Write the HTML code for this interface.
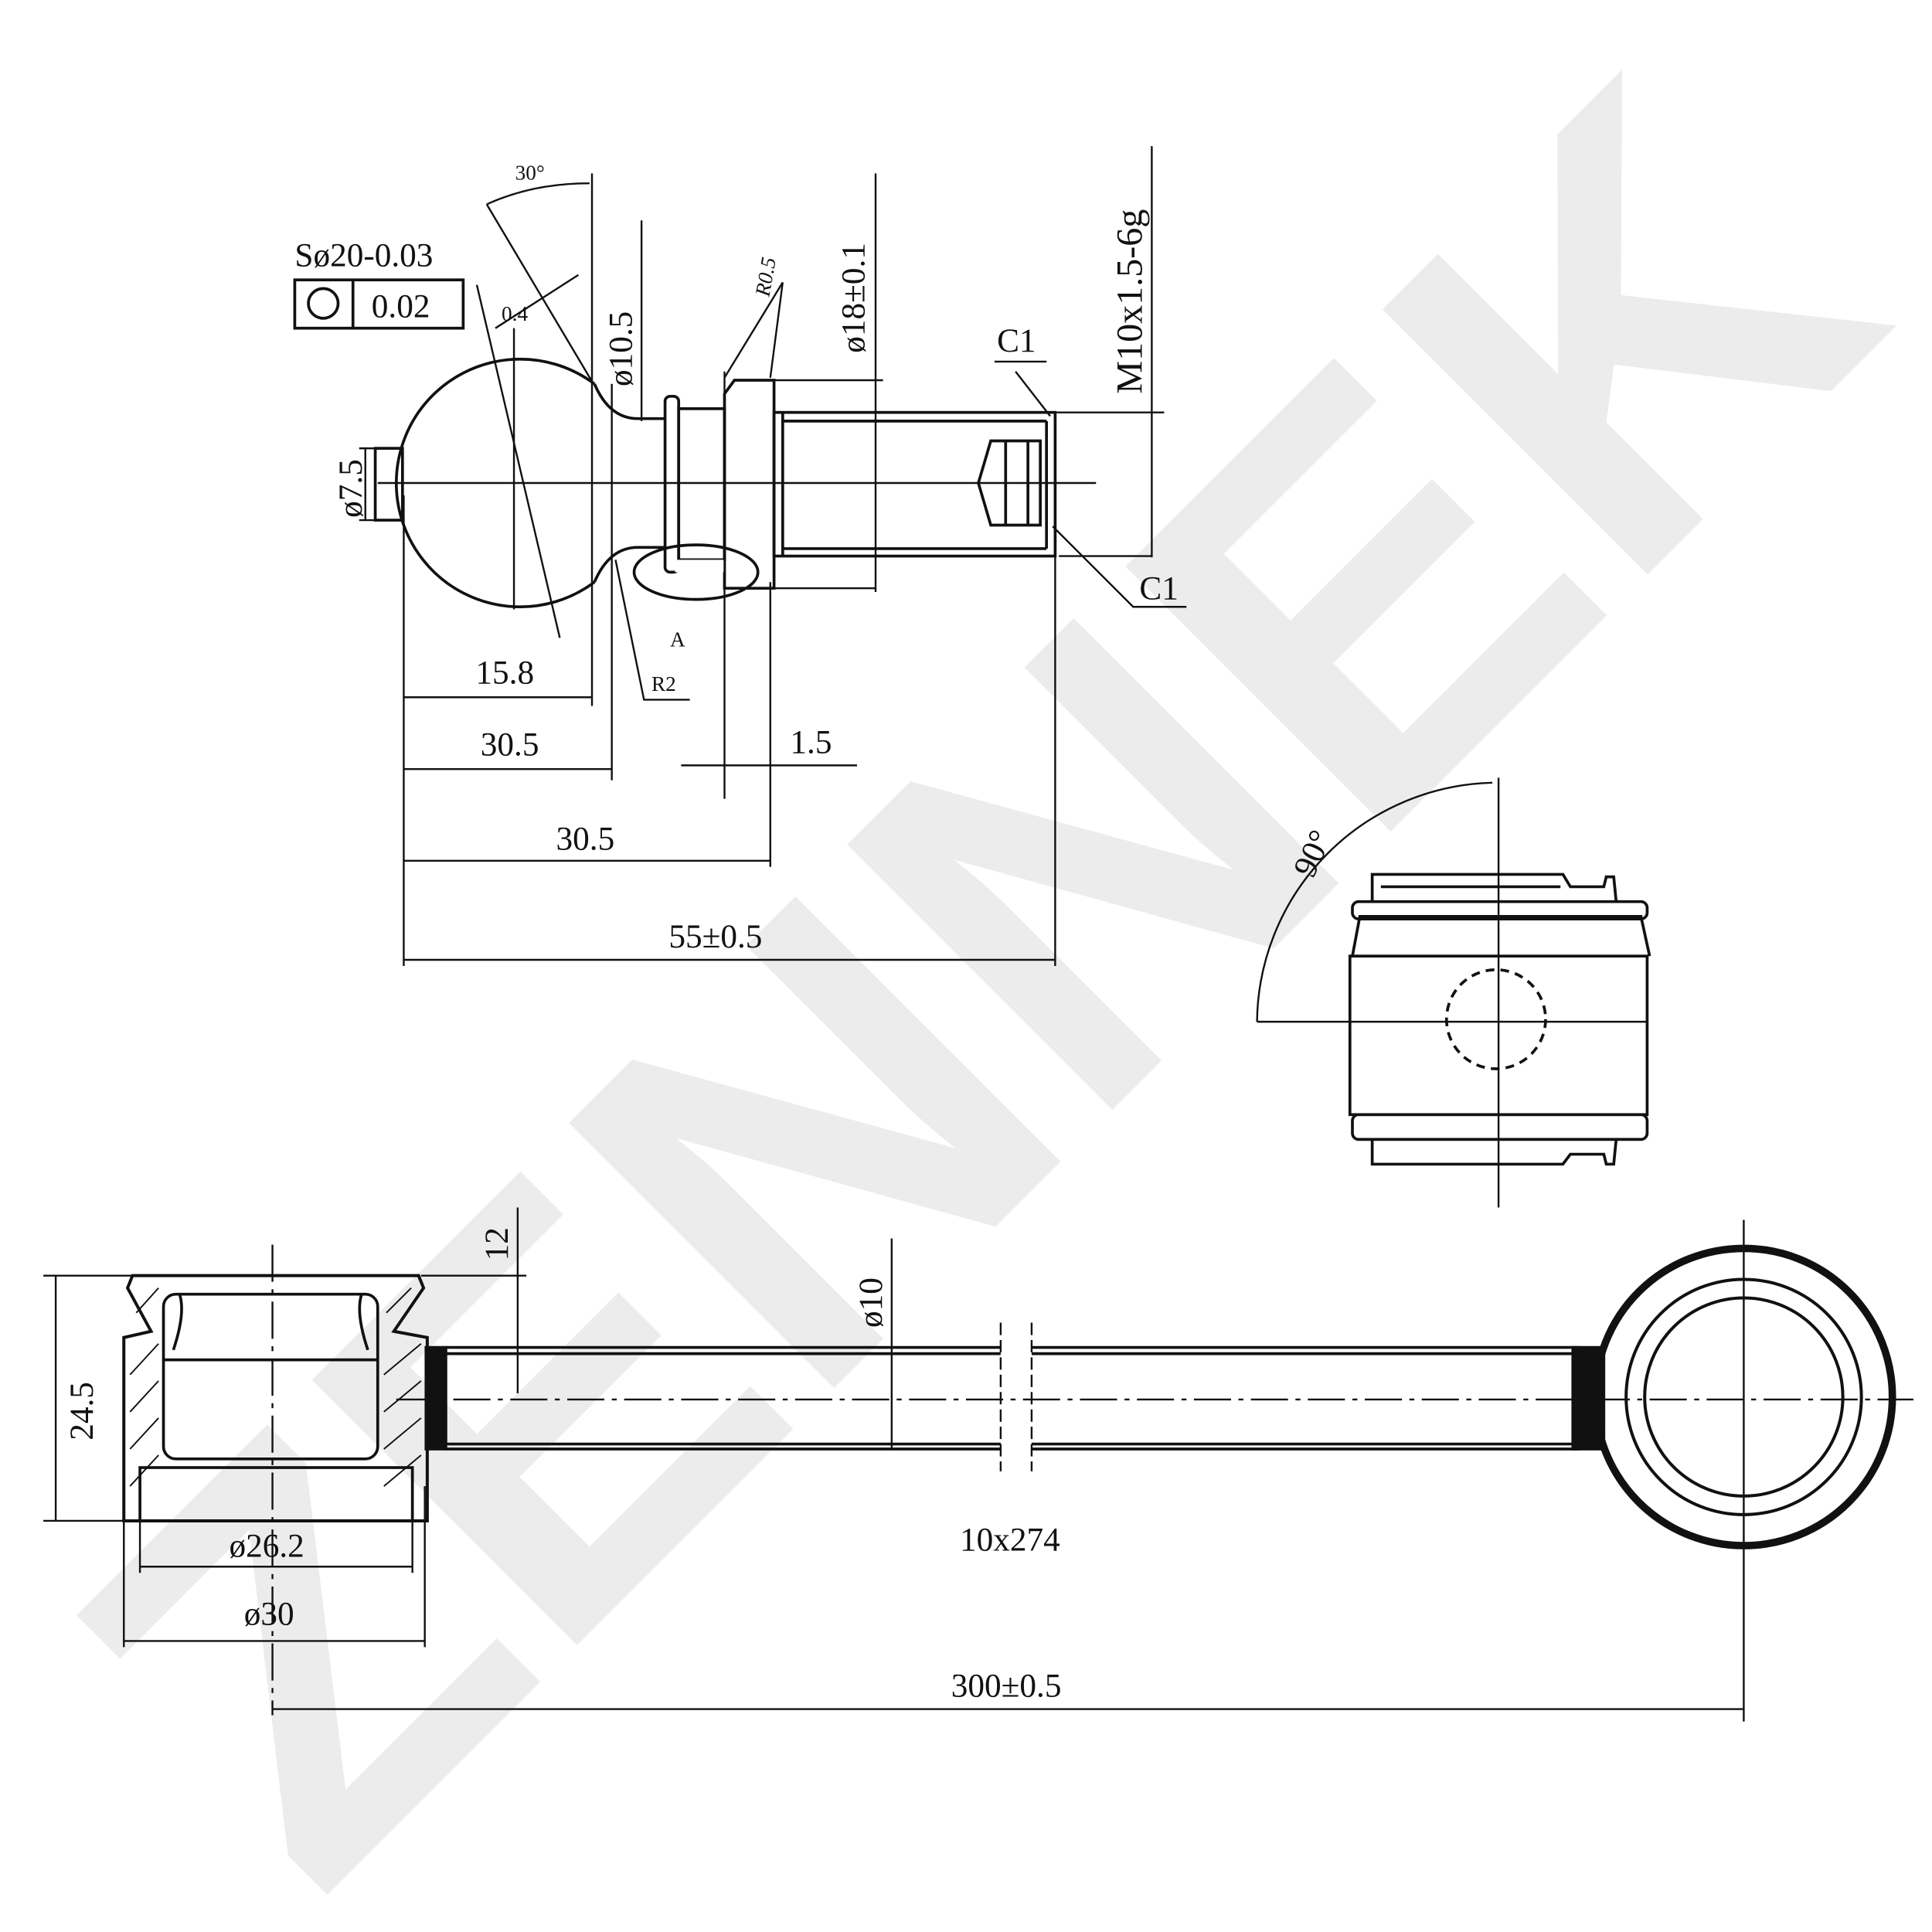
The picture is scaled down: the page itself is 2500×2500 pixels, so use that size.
<!DOCTYPE html>
<html><head><meta charset="utf-8"><style>
html,body{margin:0;padding:0;background:#fff;width:2500px;height:2500px;overflow:hidden}
svg{display:block}
text{font-family:"Liberation Serif",serif;fill:#111}
</style></head><body>
<svg width="2500" height="2500" viewBox="0 0 1560 1560" xmlns="http://www.w3.org/2000/svg">
<rect width="1560" height="1560" fill="#fff"/>
<text x="785" y="945" text-anchor="middle" transform="rotate(-45 785 790)" style="font-family:'Liberation Sans',sans-serif;font-weight:bold;font-size:440px;fill:#ececec;letter-spacing:0px">ZENNEK</text>

<g stroke="#111" stroke-width="2.3" fill="none">
<line x1="305" y1="390" x2="885" y2="390" stroke-width="1.5"/>
<rect x="303" y="362" width="22" height="58"/>
<path d="M480,310 A100,100 0 1 0 480,470"/>
<path d="M480,310 Q492,338 515,338 L537,338 M480,470 Q492,442 515,442 L537,442"/>
<rect x="537" y="320" width="11" height="142" rx="4"/>
<rect x="548" y="330" width="37" height="122"/>
<path d="M585,452 L585,318 L593,307 L625,307 L625,475 L585,475 Z"/>
<rect x="625" y="333" width="227" height="116"/>
<line x1="632" y1="340" x2="845" y2="340"/><line x1="632" y1="443" x2="845" y2="443"/>
<line x1="632" y1="333" x2="632" y2="449"/>
<line x1="845" y1="340" x2="845" y2="443"/>
<path d="M800,356 L840,356 L840,424 L800,424 L790,390 Z"/>
<line x1="812" y1="356" x2="812" y2="424"/><line x1="830" y1="356" x2="830" y2="424"/>
<ellipse cx="562" cy="462" rx="50" ry="22"/>
<rect x="545" y="452" width="40" height="10" fill="#fff" stroke="none"/>
<g stroke-width="1.5">
<line x1="326" y1="400" x2="326" y2="780"/>
<line x1="478" y1="140" x2="478" y2="570"/>
<line x1="494" y1="310" x2="494" y2="630"/>
<line x1="518" y1="178" x2="518" y2="340"/>
<line x1="585" y1="300" x2="585" y2="645"/>
<line x1="622" y1="470" x2="622" y2="700"/>
<line x1="707" y1="140" x2="707" y2="478"/>
<line x1="852" y1="340" x2="852" y2="780"/>
<line x1="930" y1="118" x2="930" y2="450"/>
<line x1="326" y1="563" x2="478" y2="563"/>
<line x1="326" y1="621" x2="494" y2="621"/>
<line x1="550" y1="618" x2="692" y2="618"/>
<line x1="326" y1="695" x2="622" y2="695"/>
<line x1="326" y1="775" x2="852" y2="775"/>
<line x1="625" y1="307" x2="713" y2="307"/>
<line x1="600" y1="475" x2="707" y2="475"/>
<line x1="850" y1="333" x2="940" y2="333"/>
<line x1="855" y1="449" x2="930" y2="449"/>
<line x1="295" y1="362" x2="295" y2="420"/>
<line x1="290" y1="362" x2="325" y2="362"/><line x1="290" y1="420" x2="325" y2="420"/>
<line x1="585" y1="305" x2="632" y2="228"/><line x1="622" y1="305" x2="632" y2="228"/>
<line x1="803" y1="292" x2="845" y2="292"/><line x1="820" y1="300" x2="848" y2="336"/>
<polyline points="850,425 915,490 958,490"/>
<path d="M393,165 Q430,148 476,148"/>
<line x1="393" y1="165" x2="478" y2="308"/>
<line x1="385" y1="230" x2="452" y2="515"/>
<line x1="400" y1="265" x2="467" y2="222"/>
<line x1="415" y1="265" x2="415" y2="492"/>
<polyline points="497,452 520,565 557,565"/>
</g>
<rect x="238" y="226" width="136" height="39"/>
<line x1="285" y1="226" x2="285" y2="265"/>
<circle cx="261" cy="245" r="12"/>

<g stroke-width="1.5">
<path d="M1015,825 A195,195 0 0 1 1205,632"/>
<line x1="1210" y1="628" x2="1210" y2="975"/>
<line x1="1015" y1="825" x2="1330" y2="825"/>
</g>
<rect x="1090" y="772" width="240" height="128"/>
<path d="M1092,772 L1098,740 L1325,740 L1332,772"/>
<rect x="1092" y="728" width="238" height="14" rx="5"/>
<path d="M1108,728 L1108,706 L1262,706 L1268,716 L1295,716 L1297,708 L1303,708 L1305,728"/>
<line x1="1115" y1="716" x2="1260" y2="716"/>
<rect x="1092" y="900" width="238" height="20" rx="5"/>
<path d="M1108,920 L1108,940 L1262,940 L1268,932 L1295,932 L1297,940 L1303,940 L1305,920"/>
<circle cx="1208" cy="823" r="40" stroke-dasharray="7,5"/>

<g stroke-width="1.5">
<line x1="45" y1="1030" x2="45" y2="1228"/>
<line x1="35" y1="1030" x2="110" y2="1030"/><line x1="35" y1="1228" x2="110" y2="1228"/>
<line x1="113" y1="1265" x2="333" y2="1265"/>
<line x1="113" y1="1185" x2="113" y2="1270"/><line x1="333" y1="1185" x2="333" y2="1270"/>
<line x1="100" y1="1325" x2="343" y2="1325"/>
<line x1="100" y1="1200" x2="100" y2="1330"/><line x1="343" y1="1200" x2="343" y2="1330"/>
<line x1="220" y1="1005" x2="220" y2="1385" stroke-dasharray="30,6,4,6"/>
<line x1="220" y1="1380" x2="1408" y2="1380"/>
<line x1="1408" y1="985" x2="1408" y2="1390"/>
<line x1="418" y1="975" x2="418" y2="1125"/>
<line x1="340" y1="1030" x2="425" y2="1030"/>
<line x1="720" y1="1000" x2="720" y2="1170"/>
<line x1="320" y1="1130" x2="1545" y2="1130" stroke-dasharray="30,6,4,6"/>
<line x1="808" y1="1068" x2="808" y2="1188" stroke-dasharray="10,4"/>
<line x1="833" y1="1068" x2="833" y2="1188" stroke-dasharray="10,4"/>
</g>
<path d="M107,1030 L338,1030 L342,1040 L318,1075 L345,1080 L345,1228 L100,1228 L100,1080 L122,1075 L103,1040 Z" stroke-width="2.5"/>
<rect x="132" y="1045" width="173" height="133" rx="10"/>
<line x1="132" y1="1098" x2="305" y2="1098"/>
<path d="M145,1045 Q150,1060 140,1090 M292,1045 Q287,1060 297,1090"/>
<rect x="113" y="1185" width="220" height="43"/>
<g stroke-width="1.2">
<line x1="105" y1="1110" x2="128" y2="1085"/><line x1="105" y1="1140" x2="128" y2="1115"/><line x1="105" y1="1170" x2="128" y2="1145"/><line x1="105" y1="1200" x2="128" y2="1175"/>
<line x1="310" y1="1110" x2="340" y2="1085"/><line x1="310" y1="1140" x2="340" y2="1115"/><line x1="310" y1="1170" x2="340" y2="1145"/><line x1="310" y1="1200" x2="340" y2="1175"/>
<line x1="110" y1="1060" x2="128" y2="1040"/><line x1="312" y1="1060" x2="332" y2="1040"/>
</g>
<rect x="344" y="1088" width="16" height="82" fill="#111"/>
<line x1="360" y1="1088" x2="808" y2="1088"/><line x1="360" y1="1093" x2="808" y2="1093"/>
<line x1="360" y1="1170" x2="808" y2="1170"/><line x1="360" y1="1166" x2="808" y2="1166"/>
<line x1="833" y1="1088" x2="1275" y2="1088"/><line x1="833" y1="1093" x2="1275" y2="1093"/>
<line x1="833" y1="1170" x2="1275" y2="1170"/><line x1="833" y1="1166" x2="1275" y2="1166"/>
<rect x="1270" y="1088" width="25" height="82" fill="#111"/>
<circle cx="1408" cy="1128" r="120" stroke-width="6"/>
<circle cx="1408" cy="1128" r="95" stroke-width="2.5"/>
<circle cx="1408" cy="1128" r="80" stroke-width="2.5"/>
</g>

<g font-size="27">
<text x="238" y="215">Sø20-0.03</text>
<text x="300" y="256">0.02</text>
<text x="384" y="552">15.8</text>
<text x="388" y="610">30.5</text>
<text x="638" y="608">1.5</text>
<text x="449" y="686">30.5</text>
<text x="540" y="765">55±0.5</text>
<text x="805" y="284">C1</text>
<text x="920" y="484">C1</text>
<text transform="translate(292,418) rotate(-90)">ø7.5</text>
<text transform="translate(510,312) rotate(-90)">ø10.5</text>
<text transform="translate(698,285) rotate(-90)">ø18±0.1</text>
<text transform="translate(922,318) rotate(-90)" font-size="30">M10x1.5-6g</text>
<text transform="translate(1060,710) rotate(-65)">90°</text>
<text transform="translate(75,1163) rotate(-90)">24.5</text>
<text transform="translate(410,1018) rotate(-90)">12</text>
<text transform="translate(712,1072) rotate(-90)">ø10</text>
<text x="185" y="1257">ø26.2</text>
<text x="197" y="1312">ø30</text>
<text x="775" y="1252">10x274</text>
<text x="768" y="1370">300±0.5</text>
</g>
<g font-size="17">
<text x="416" y="145">30°</text>
<text x="405" y="259">0.4</text>
<text x="541" y="522">A</text>
<text x="526" y="558">R2</text>
<text transform="translate(621,240) rotate(-80)" font-style="italic">R0.5</text>
</g>
</svg>
</body></html>
